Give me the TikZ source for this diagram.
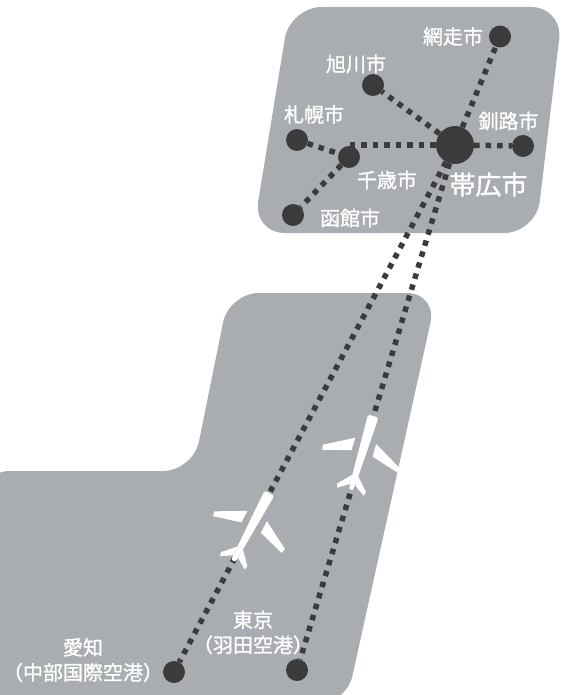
\documentclass[tikz,border=0pt]{standalone}
\usepackage{fontspec}
\setmainfont{Noto Sans CJK JP}
\newfontfamily\placefont{Noto Sans CJK JP}[FakeBold=1.2]
\usepackage{tikz}
\definecolor{landgray}{RGB}{169,173,177}
\definecolor{dotgray}{RGB}{59,59,59}

\tikzset{
	city/.style={circle, fill=dotgray, inner sep=0pt, minimum size=22pt},
	hub/.style={circle, fill=dotgray, inner sep=0pt, minimum size=38pt},
	route/.style={dotgray, line width=5.5pt, dash pattern=on 5.5pt off 6pt},
	place/.style={text=white, inner sep=0pt, font=\placefont\fontsize{20}{25}\selectfont, align=center},
	jet/.pic={
		% fuselage
		\fill[white, rounded corners=2.5pt] (1,-5.5) -- (1,5.5) -- (-76,2.5) -- (-76,-2.5) -- cycle;
		% wings and tail
		\foreach \s in {1,-1} {
			\fill[white] (-25,11*\s) -- (-41,40*\s) -- (-46,39*\s) -- (-38,11*\s) -- cycle;
			\fill[white] (-61,3*\s) -- (-74,15*\s) -- (-78,14*\s) -- (-71,3*\s) -- cycle;
		}
	}
}

\begin{document}
\begin{tikzpicture}[x=1pt, y=-1pt]
	\clip (0,0) rectangle (563,695);
	% islands
	\fill[landgray, rounded corners=32pt] (290,7) -- (563,7) -- (536,233) -- (253,233) -- cycle;
	\fill[landgray, rounded corners=30pt] (-20,471) -- (193,471) -- (229,293) -- (437,293) -- (346,705) -- (-20,705) -- cycle;
	% cities
	\node[hub] (obihiro) at (455,145) {};
	\node[city] (abashiri) at (500,36.5) {};
	\node[city] (asahikawa) at (373,85) {};
	\node[city] (sapporo) at (297,140) {};
	\node[city] (chitose) at (349,157) {};
	\node[city] (hakodate) at (293,215) {};
	\node[city] (kushiro) at (523,146) {};
	\node[city] (aichi) at (174,672) {};
	\node[city] (tokyo) at (297,670) {};
	% routes
	\draw[route] (obihiro) -- (abashiri);
	\draw[route] (obihiro) -- (asahikawa);
	\draw[route] (obihiro) -- (kushiro);
	\draw[route] (obihiro) -- (chitose |- obihiro);
	\draw[route] (sapporo) -- (chitose);
	\draw[route] (chitose) -- (hakodate);
	\draw[route] (obihiro) -- (aichi);
	\draw[route] (obihiro) -- (tokyo);
	% planes
	\pic[rotate=61.9] at (269,494) {jet};
	\pic[rotate=73.2] at (373,417) {jet};
	% labels
	\node[place] (abashirilabel) at (453,36.5) {網走市};
	\node[place] (asahikawalabel) at (356,64) {旭川市};
	\node[place] (sapporolabel) at (314,114.5) {札幌市};
	\node[place] (kushirolabel) at (508.5,121) {釧路市};
	\node[place] (chitoselabel) at (387,180) {千歳市};
	\node[place] (hakodatelabel) at (350,218) {函館市};
	\node[place, font=\placefont\fontsize{26}{30}\selectfont] (obihirolabel) at (488.5,184.5) {帯広市};
	\node[place] (aichilabel) at (83,660) {愛知\\（中部国際空港）};
	\node[place] (tokyolabel) at (253,632.5) {東京\\（羽田空港）};
\end{tikzpicture}
\end{document}
